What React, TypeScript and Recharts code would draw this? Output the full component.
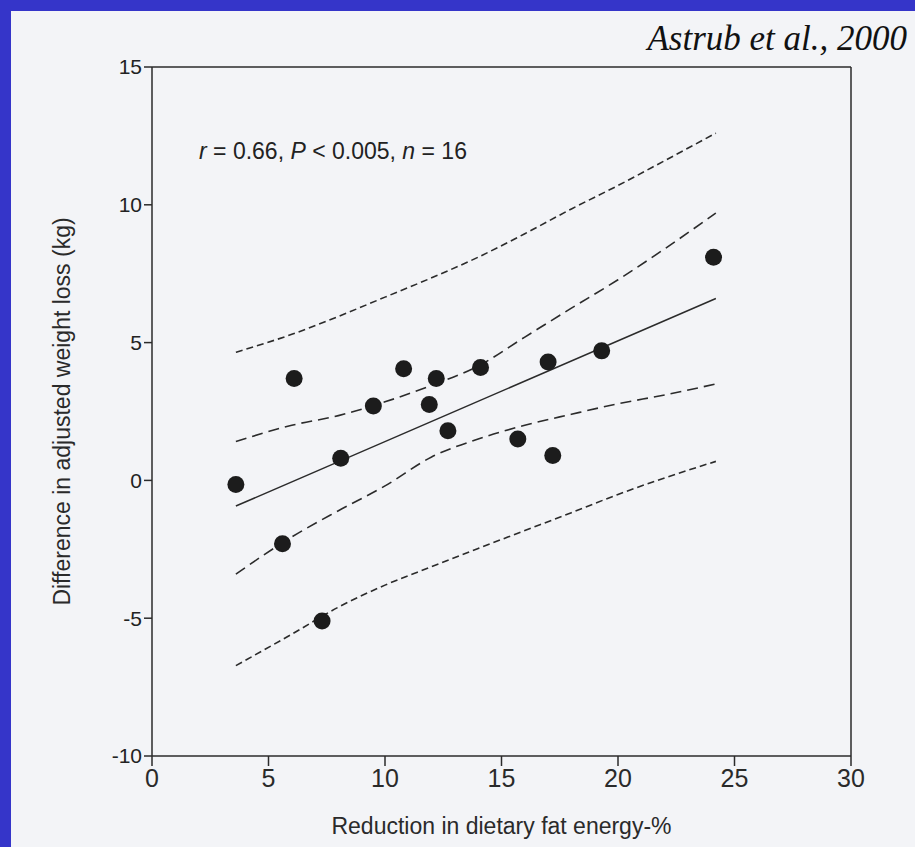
import React from 'react';
import { ScatterChart, Scatter, XAxis, YAxis, ReferenceLine } from 'recharts';

// observed points
const fatReduction = [3.6, 6.1, 5.6, 7.3, 8.1, 9.5, 10.8, 12.2, 11.9, 12.7, 14.1, 15.7, 17.0, 17.2, 19.3, 24.1];
const weightLossDiff = [-0.15, 3.7, -2.3, -5.1, 0.8, 2.7, 4.05, 3.7, 2.75, 1.8, 4.1, 1.5, 4.3, 0.9, 4.7, 8.1];

// regression line end points
const fitX = [3.6, 24.2];
const fitY = [-0.93, 6.6];

// bands
const bandX = [3.6, 6, 8, 10, 12, 14, 16, 18, 20, 22, 24.2];
const ciUpper = [1.41, 2.0, 2.35, 2.85, 3.45, 4.15, 5.2, 6.25, 7.28, 8.4, 9.7];
const ciLower = [-3.4, -2.05, -1.1, -0.2, 0.85, 1.5, 2.0, 2.4, 2.78, 3.1, 3.5];
const piUpper = [4.65, 5.3, 5.95, 6.65, 7.35, 8.1, 8.95, 9.85, 10.7, 11.6, 12.6];
const piLower = [-6.72, -5.58, -4.6, -3.8, -3.13, -2.47, -1.82, -1.17, -0.51, 0.09, 0.69];

const xTicks = [0, 5, 10, 15, 20, 25, 30];
const yTicks = [-10, -5, 0, 5, 10, 15];

const toPts = (xs: number[], ys: number[]) => xs.map((x, i) => ({ x, y: ys[i] }));

const INK = '#2b2b2b';
const SANS = '"Liberation Sans", Arial, sans-serif';

const Dot = (p: any) => <circle cx={p.cx} cy={p.cy} r={8.5} fill="#1c1c1c" />;
const NoDot = () => <g />;

export default function App() {
  return (
    <div style={{ position: 'relative', width: 915, height: 847, background: '#3535c9', overflow: 'hidden' }}>
      <style>{`body{margin:0}`}</style>
      <div style={{ position: 'absolute', left: 11, top: 11, width: 904, height: 836, background: '#f3f4f7' }} />
      <div style={{ position: 'absolute', right: 8, top: 19, fontFamily: '"Liberation Serif", "Times New Roman", serif', fontStyle: 'italic', fontSize: 35, color: '#111' }}>
        Astrub et al., 2000
      </div>
      <div style={{ position: 'absolute', left: 199, top: 138, fontFamily: SANS, fontSize: 23, color: '#222', whiteSpace: 'nowrap' }}>
        <i>r</i> = 0.66, <i>P</i> &lt; 0.005, <i>n</i> = 16
      </div>
      <div style={{ position: 'absolute', left: 0, top: 0 }}>
        <ScatterChart width={915} height={847} margin={{ top: 67, right: 64, left: 92, bottom: 51 }}>
          <XAxis
            type="number"
            dataKey="x"
            domain={[0, 30]}
            ticks={xTicks}
            tickSize={10}
            tickMargin={3}
            stroke={INK}
            strokeWidth={1.5}
            tick={{ fill: '#2a2a2a', fontSize: 25, fontFamily: SANS }}
            height={40}
            label={{
              value: 'Reduction in dietary fat energy-%',
              position: 'bottom',
              offset: 22,
              style: { fill: '#2a2a2a', fontSize: 23, fontFamily: SANS },
            }}
          />
          <YAxis
            type="number"
            dataKey="y"
            domain={[-10, 15]}
            ticks={yTicks}
            tickSize={8}
            tickMargin={2}
            stroke={INK}
            strokeWidth={1.5}
            width={60}
            tick={{ fill: '#222', fontSize: 21, fontFamily: SANS }}
            label={{
              value: 'Difference in adjusted weight loss (kg)',
              angle: -90,
              position: 'insideLeft',
              offset: -30,
              style: { fill: '#2a2a2a', fontSize: 23, fontFamily: SANS, textAnchor: 'middle' },
            }}
          />
          <ReferenceLine y={15} stroke={INK} strokeWidth={1.5} />
          <ReferenceLine x={30} stroke={INK} strokeWidth={1.5} />
          <Scatter data={toPts(bandX, piUpper)} line={{ stroke: INK, strokeWidth: 1.6, strokeDasharray: '7 4' }} lineJointType="monotoneX" shape={NoDot} isAnimationActive={false} />
          <Scatter data={toPts(bandX, piLower)} line={{ stroke: INK, strokeWidth: 1.6, strokeDasharray: '7 4' }} lineJointType="monotoneX" shape={NoDot} isAnimationActive={false} />
          <Scatter data={toPts(bandX, ciUpper)} line={{ stroke: INK, strokeWidth: 1.6, strokeDasharray: '11 6' }} lineJointType="monotoneX" shape={NoDot} isAnimationActive={false} />
          <Scatter data={toPts(bandX, ciLower)} line={{ stroke: INK, strokeWidth: 1.6, strokeDasharray: '11 6' }} lineJointType="monotoneX" shape={NoDot} isAnimationActive={false} />
          <Scatter data={toPts(fitX, fitY)} line={{ stroke: INK, strokeWidth: 1.5 }} shape={NoDot} isAnimationActive={false} />
          <Scatter data={toPts(fatReduction, weightLossDiff)} shape={Dot} isAnimationActive={false} />
        </ScatterChart>
      </div>
    </div>
  );
}
